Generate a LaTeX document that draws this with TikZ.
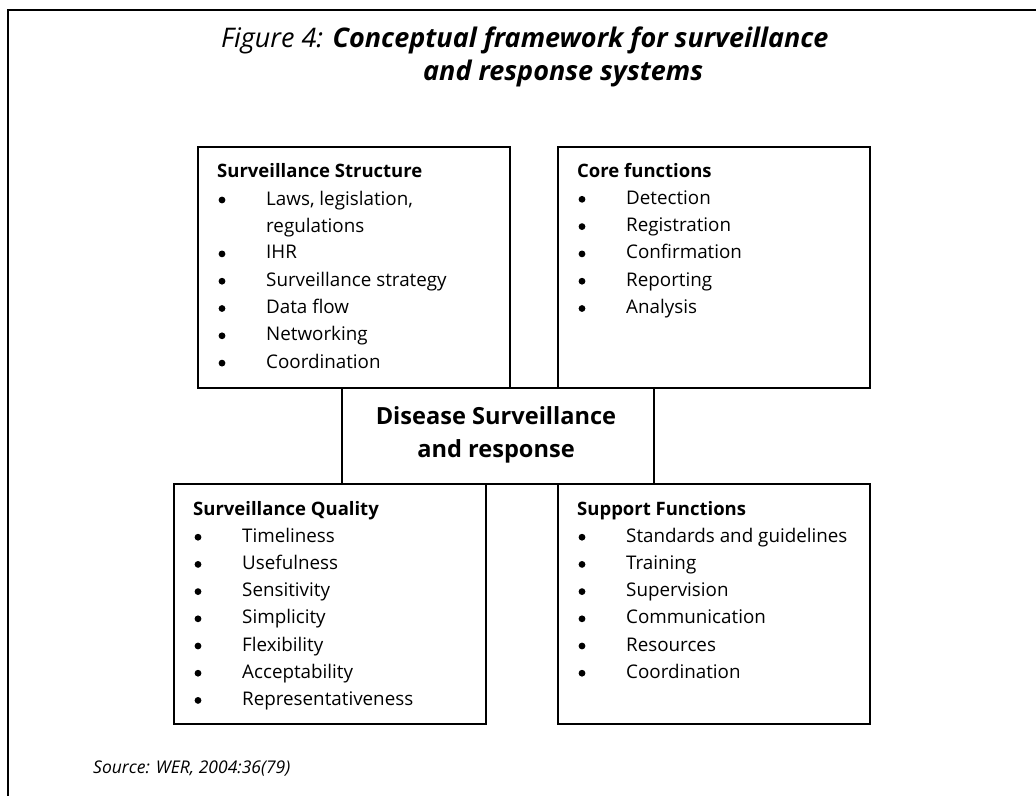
\documentclass[tikz,border=0pt]{standalone}
\usepackage{fontspec}
\setmainfont{Open Sans}
\begin{document}
\begin{tikzpicture}[x=1pt,y=-1pt,
  frame/.style={line width=1.6pt},
  box/.style={draw, line width=1.6pt, anchor=north west, inner sep=0, minimum width=312pt},
  hd/.style={anchor=base west, inner sep=0, font=\fontsize{18.5}{22}\selectfont\bfseries},
  it/.style={anchor=base west, inner sep=0, font=\fontsize{18.8}{22}\selectfont},
  bul/.style={circle, fill, inner sep=0, minimum size=6.8pt},
  ttl/.style={anchor=base west, inner sep=0, font=\fontsize{27}{33}\selectfont\itshape},
  ctrtxt/.style={anchor=base, inner sep=0, font=\fontsize{23.6}{30}\selectfont\bfseries}]
\useasboundingbox (0,0) rectangle (1036,796);
% outer frame
\coordinate (fa) at (1036,10);
\coordinate (fb) at (8,10);
\coordinate (fc) at (8,796);
\draw[frame] (fa) -- (fb) -- (fc);
% title
\node[ttl] (t1) at (221,47) {Figure 4: \textbf{Conceptual framework for surveillance}};
\node[ttl] (t2) at (423,80) {\textbf{and response systems}};
% boxes
\node[box, minimum height=241pt] (ss) at (197,146) {};
\node[box, minimum height=241pt] (cf) at (557,146) {};
\node[box, minimum height=96pt] (ctr) at (341,387) {};
\node[box, minimum height=240pt] (sq) at (173,483) {};
\node[box, minimum height=240pt] (sf) at (557,483) {};
% centre text
\node[ctrtxt] (c1) at (496,424) {Disease Surveillance};
\node[ctrtxt] (c2) at (496,457) {and response};
% Surveillance Structure
\node[hd] (ss-h) at (217,177) {Surveillance Structure};
\node[bul] (ss-b1) at (222,200) {};
\node[it] (ss-t1) at (266,205) {Laws, legislation,};
\node[it] (ss-t2) at (266,232.3) {regulations};
\foreach \t [count=\i from 3] in {IHR,Surveillance strategy,Data flow,Networking,Coordination}
  {\node[bul] (ss-b\i) at (222,177+27.3*\i-5) {};
   \node[it] (ss-t\i) at (266,177+27.3*\i) {\t};}
% Core functions
\node[hd] (cf-h) at (577,177) {Core functions};
\foreach \t [count=\i] in {Detection,Registration,Confirmation,Reporting,Analysis}
  {\node[bul] (cf-b\i) at (582,177+27.3*\i-5) {};
   \node[it] (cf-t\i) at (626,177+27.3*\i) {\t};}
% Surveillance Quality
\node[hd] (sq-h) at (193,515) {Surveillance Quality};
\foreach \t [count=\i] in {Timeliness,Usefulness,Sensitivity,Simplicity,Flexibility,Acceptability,Representativeness}
  {\node[bul] (sq-b\i) at (198,515+27.2*\i-5) {};
   \node[it] (sq-t\i) at (242,515+27.2*\i) {\t};}
% Support Functions
\node[hd] (sf-h) at (577,515) {Support Functions};
\foreach \t [count=\i] in {Standards and guidelines,Training,Supervision,Communication,Resources,Coordination}
  {\node[bul] (sf-b\i) at (582,515+27.2*\i-5) {};
   \node[it] (sf-t\i) at (626,515+27.2*\i) {\t};}
% source
\node[anchor=base west, inner sep=0, font=\fontsize{17.5}{20}\selectfont\itshape] (src) at (93,773) {Source: WER, 2004:36(79)};
\end{tikzpicture}
\end{document}
